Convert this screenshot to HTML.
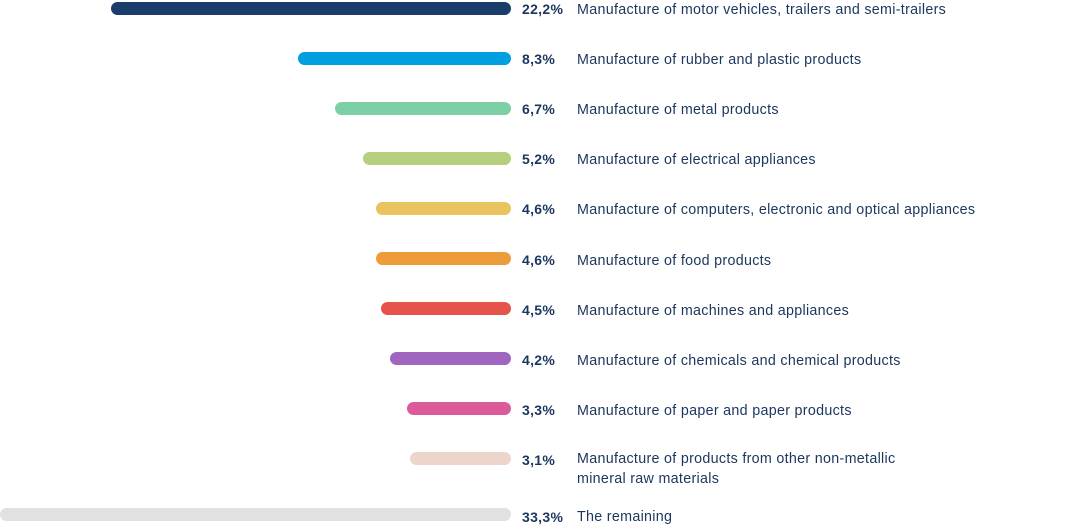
<!DOCTYPE html>
<html><head><meta charset="utf-8"><style>
body{margin:0;width:1078px;height:524px;background:#fff;position:relative;overflow:hidden;font-family:"Liberation Sans",sans-serif;color:#1b365d}
.b{position:absolute;height:13px;border-radius:6.5px}
.v{position:absolute;left:522px;font-size:14px;font-weight:bold;line-height:16px;letter-spacing:0.3px}
.t{position:absolute;left:577px;font-size:14.3px;line-height:20px;letter-spacing:0.3px}
</style></head><body>
<div class="b" style="left:111px;width:400px;top:2px;background:#1a3e69"></div>
<div class="v" style="top:1px">22,2%</div><div class="t" style="top:0px">Manufacture of motor vehicles, trailers and semi-trailers</div>

<div class="b" style="left:298px;width:213px;top:52px;background:#009fdf"></div>
<div class="v" style="top:51px">8,3%</div><div class="t" style="top:50px">Manufacture of rubber and plastic products</div>

<div class="b" style="left:335px;width:176px;top:102px;background:#7dcfa6"></div>
<div class="v" style="top:101px">6,7%</div><div class="t" style="top:100px">Manufacture of metal products</div>

<div class="b" style="left:363px;width:148px;top:152px;background:#b5cf7c"></div>
<div class="v" style="top:151px">5,2%</div><div class="t" style="top:150px">Manufacture of electrical appliances</div>

<div class="b" style="left:376px;width:135px;top:202px;background:#e9c45e"></div>
<div class="v" style="top:201px">4,6%</div><div class="t" style="top:200px">Manufacture of computers, electronic and optical appliances</div>

<div class="b" style="left:376px;width:135px;top:252px;background:#ee9c3a"></div>
<div class="v" style="top:252px">4,6%</div><div class="t" style="top:251px">Manufacture of food products</div>

<div class="b" style="left:381px;width:130px;top:302px;background:#e5534b"></div>
<div class="v" style="top:302px">4,5%</div><div class="t" style="top:301px">Manufacture of machines and appliances</div>

<div class="b" style="left:390px;width:121px;top:352px;background:#a066bf"></div>
<div class="v" style="top:352px">4,2%</div><div class="t" style="top:351px">Manufacture of chemicals and chemical products</div>

<div class="b" style="left:407px;width:104px;top:402px;background:#dc5a9a"></div>
<div class="v" style="top:402px">3,3%</div><div class="t" style="top:401px">Manufacture of paper and paper products</div>

<div class="b" style="left:410px;width:101px;top:452px;background:#ecd6cc"></div>
<div class="v" style="top:452px">3,1%</div><div class="t" style="top:449px">Manufacture of products from other non-metallic<br>mineral raw materials</div>

<div class="b" style="left:0;width:511px;top:508px;background:#e1e1e1"></div>
<div class="v" style="top:509px">33,3%</div><div class="t" style="top:507px">The remaining</div>
</body></html>
